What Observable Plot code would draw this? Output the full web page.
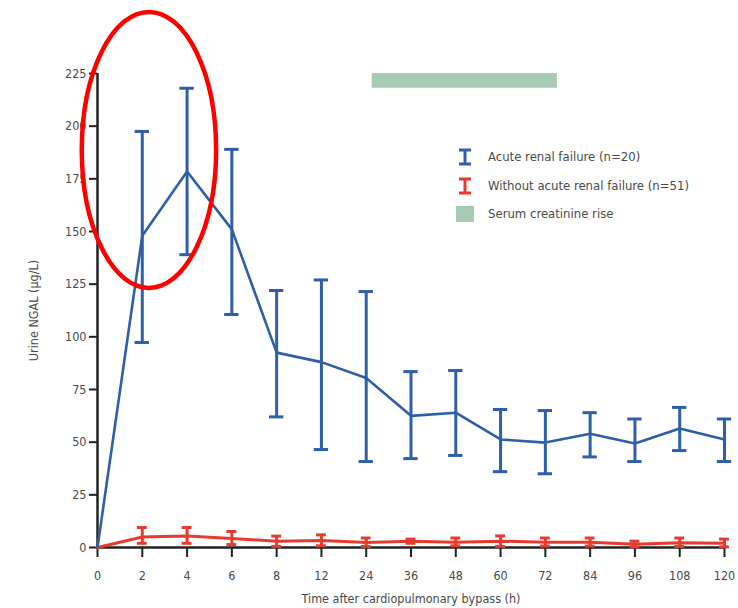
<!DOCTYPE html>
<html><head><meta charset="utf-8">
<script src="https://cdn.jsdelivr.net/npm/d3@7"></script>
<script src="https://cdn.jsdelivr.net/npm/@observablehq/plot@0.6"></script>
<style>
body{margin:0;background:#fff;font-family:"Liberation Sans Narrow","DejaVu Sans Condensed","Liberation Sans",sans-serif;}
#wrap{position:relative;width:738px;height:608px;}
.leg{position:absolute;left:455px;top:143px;font-size:13px;color:#4a4a4a;line-height:28.5px;}
.leg div{display:flex;align-items:center;height:28.5px;}
.leg svg{margin-right:13px;}
</style></head><body><div id="wrap"></div>
<script>
// Categories (hours after cardiopulmonary bypass), evenly spaced on the axis
const hours = ["0","2","4","6","8","12","24","36","48","60","72","84","96","108","120"];
// Acute renal failure (n=20)
const arfMean  = [0, 148, 178.5, 151, 92.5, 88, 80.5, 62.5, 64, 51.3, 49.8, 54, 49.4, 56.5, 51.3];
const arfUpper = [null, 197.5, 218, 189, 122, 127, 121.5, 83.5, 84, 65.5, 65, 64, 61, 66.5, 61];
const arfLower = [null, 97.3, 139, 110.6, 62, 46.5, 40.8, 42.2, 43.7, 36, 35, 43, 40.8, 46, 40.8];
// Without acute renal failure (n=51)
const noMean  = [0, 5, 5.5, 4.3, 3, 3.3, 2.4, 3, 2.5, 3, 2.5, 2.5, 1.5, 2.3, 2];
const noUpper = [null, 9.5, 9.5, 7.6, 5.4, 6, 4.5, 4, 4.5, 5.5, 4.5, 4.5, 3, 4.5, 4];
const noLower = [null, 2, 2, 1.4, 0.5, 0.8, 0.5, 2, 0.8, 0.5, 0.7, 0.7, 0.3, 0.5, 0.3];
// Serum creatinine rise period
const riseStart = "24", riseEnd = "72";
const riseLow = 218, riseHigh = 225;
const yTicks = [0, 25, 50, 75, 100, 125, 150, 175, 200, 225];
// Highlight ellipse (data coordinates: hour index centre, value centre, radii)
const highlight = {xc: 1.16, yc: 188.5, rx: 1.5, ry: 65.5};

const idx = h => hours.indexOf(h);
const arf = hours.map((h, i) => ({i, m: arfMean[i], hi: arfUpper[i], lo: arfLower[i]}));
const no = hours.map((h, i) => ({i, m: noMean[i], hi: noUpper[i], lo: noLower[i]}));
const arfE = arf.filter(d => d.hi != null);
const noE = no.filter(d => d.hi != null);

const blue = "#2f5fa8", red = "#e63b2e", green = "#a9cbb4";
const capB = 0.16, capR = 0.11;

const chart = Plot.plot({
  width: 738, height: 608,
  marginLeft: 97, marginRight: 14, marginTop: 73, marginBottom: 61,
  style: {fontFamily: '"Liberation Sans Narrow","DejaVu Sans Condensed","Liberation Sans",sans-serif', fontSize: "12px", color: "#4a4a4a", background: "#fff"},
  x: {domain: [0, hours.length - 1], axis: null},
  y: {domain: [0, 225], axis: null},
  marks: [
    Plot.rect([{a: idx(riseStart), b: idx(riseEnd)}], {x1: "a", x2: "b", y1: riseLow, y2: riseHigh, fill: green, insetLeft: 6, insetRight: -12}),
    Plot.axisY({ticks: yTicks, tickSize: 8, tickPadding: 3, fontSize: 12.5, label: "Urine NGAL (μg/L)", labelAnchor: "center", labelArrow: "none", labelOffset: 68, stroke: "#222", strokeWidth: 2}),
    Plot.axisX({ticks: d3.range(hours.length), tickFormat: i => hours[i], tickSize: 10, tickPadding: 14, fontSize: 12.5, label: "Time after cardiopulmonary bypass (h)", labelAnchor: "center", labelArrow: "none", labelOffset: 55, stroke: "#222", strokeWidth: 2}),
    Plot.ruleX([0], {y1: 0, y2: 225, stroke: "#222", strokeWidth: 2.5}),
    Plot.ruleY([0], {x1: 0, x2: hours.length - 1, stroke: "#222", strokeWidth: 2.5}),
    // red series
    Plot.line(no, {x: "i", y: "m", stroke: red, strokeWidth: 3}),
    Plot.ruleX(noE, {x: "i", y1: "lo", y2: "hi", stroke: red, strokeWidth: 3}),
    Plot.ruleY(noE, {y: "hi", x1: d => d.i - capR, x2: d => d.i + capR, stroke: red, strokeWidth: 3}),
    Plot.ruleY(noE, {y: "lo", x1: d => d.i - capR, x2: d => d.i + capR, stroke: red, strokeWidth: 3}),
    // blue series
    Plot.line(arf, {x: "i", y: "m", stroke: blue, strokeWidth: 2.6}),
    Plot.ruleX(arfE, {x: "i", y1: "lo", y2: "hi", stroke: blue, strokeWidth: 3}),
    Plot.ruleY(arfE, {y: "hi", x1: d => d.i - capB, x2: d => d.i + capB, stroke: blue, strokeWidth: 3}),
    Plot.ruleY(arfE, {y: "lo", x1: d => d.i - capB, x2: d => d.i + capB, stroke: blue, strokeWidth: 3})
  ]
});

// highlight ellipse placed through the chart's own scales
const sx = chart.scale("x"), sy = chart.scale("y");
const cx = sx.apply(highlight.xc), cy = sy.apply(highlight.yc);
const rx = sx.apply(highlight.xc + highlight.rx) - cx;
const ry = cy - sy.apply(highlight.yc + highlight.ry);
d3.select(chart).append("ellipse")
  .attr("cx", cx).attr("cy", cy).attr("rx", rx).attr("ry", ry)
  .attr("fill", "none").attr("stroke", "#ff0000").attr("stroke-width", 4.5);

const wrap = document.getElementById("wrap");
wrap.appendChild(chart);

const legendItems = [
  {label: "Acute renal failure (n=20)", color: blue, kind: "bar"},
  {label: "Without acute renal failure (n=51)", color: red, kind: "bar"},
  {label: "Serum creatinine rise", color: green, kind: "box"}
];
const leg = document.createElement("div");
leg.className = "leg";
for (const it of legendItems) {
  const row = document.createElement("div");
  const sym = it.kind === "bar"
    ? `<svg width="20" height="18"><line x1="10" y1="2" x2="10" y2="16" stroke="${it.color}" stroke-width="3"/><line x1="4" y1="2" x2="16" y2="2" stroke="${it.color}" stroke-width="3"/><line x1="4" y1="16" x2="16" y2="16" stroke="${it.color}" stroke-width="3"/></svg>`
    : `<svg width="20" height="16"><rect x="1" y="0" width="18" height="16" fill="${it.color}"/></svg>`;
  row.innerHTML = sym + `<span>${it.label}</span>`;
  leg.appendChild(row);
}
wrap.appendChild(leg);
</script>
</body></html>
